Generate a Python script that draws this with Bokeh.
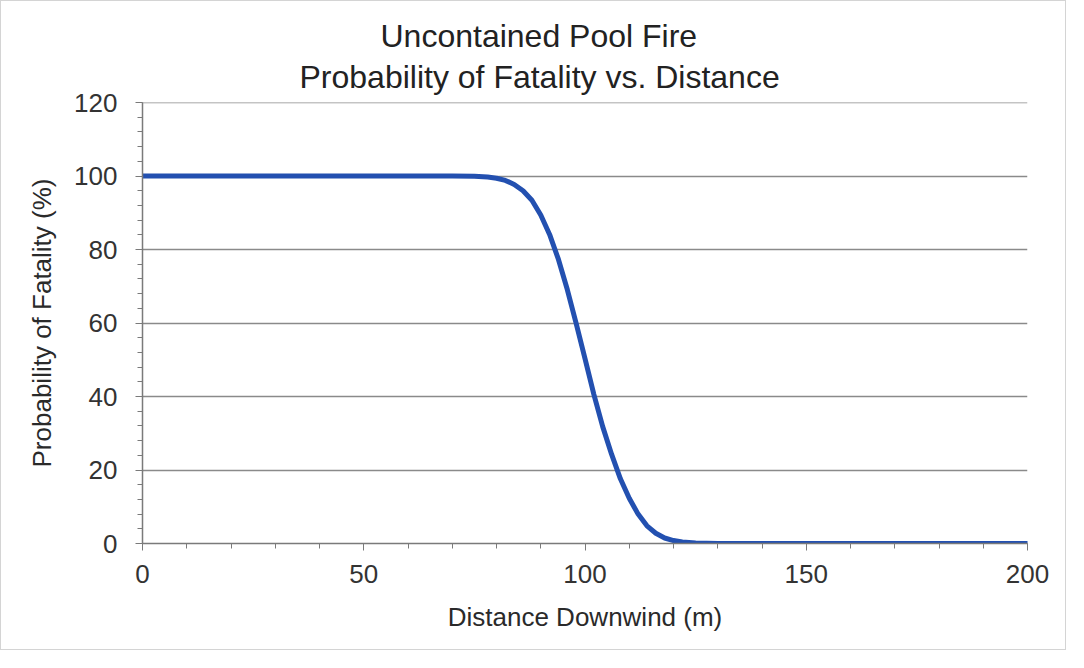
from bokeh.plotting import figure
from bokeh.models import SingleIntervalTicker, Title, Range1d, Span
from bokeh.embed import file_html
from bokeh.resources import INLINE

title_lines = ["Uncontained  Pool Fire", "Probability of Fatality vs. Distance"]
x_label = "Distance Downwind (m)"
y_label = "Probability of Fatality (%)"

distance = [0, 10, 20, 30, 40, 50, 60, 70, 75, 78, 80, 82, 84, 86, 88, 90, 92, 94, 96, 98,
            100, 102, 104, 106, 108, 110, 112, 114, 116, 118, 120, 122, 125, 130, 140,
            150, 160, 170, 180, 190, 200]
probability = [100, 100, 100, 100, 100, 100, 100, 100, 99.9, 99.7, 99.4, 98.8, 97.7, 96.0,
               93.4, 89.4, 84.1, 77.3, 69.1, 59.9,
               50.3, 40.6, 31.8, 24.3, 17.6, 12.3, 8.0, 4.8, 2.8, 1.5, 0.8, 0.4, 0.15, 0.0, 0.0,
               0.0, 0.0, 0.0, 0.0, 0.0, 0.0]

FONT = "Liberation Sans"

p = figure(width=1066, height=650, output_backend="svg", toolbar_location=None,
           x_range=Range1d(0, 200), y_range=Range1d(0, 120),
           min_border_left=141, min_border_right=40, min_border_top=101, min_border_bottom=108)
p.styles = {"border": "1px solid #d4d4d4"}
p.outline_line_color = None
p.background_fill_color = "white"
p.border_fill_color = "white"

p.line(distance, probability, line_color="#2350b0", line_width=5, line_join="round", line_cap="round")

p.xaxis.ticker = SingleIntervalTicker(interval=50, num_minor_ticks=5)
p.yaxis.ticker = SingleIntervalTicker(interval=20, num_minor_ticks=5)
for ax in (p.xaxis, p.yaxis):
    ax.axis_line_color = "#7a7a7a"
    ax.axis_line_width = 1.5
    ax.major_tick_line_color = "#7a7a7a"
    ax.minor_tick_line_color = "#7a7a7a"
    ax.major_tick_in = 0
    ax.major_tick_out = 7
    ax.minor_tick_in = 0
    ax.minor_tick_out = 5
    ax.major_label_text_font = FONT
    ax.major_label_text_font_size = "26px"
    ax.major_label_text_color = "#333333"
    ax.axis_label_text_font = FONT
    ax.axis_label_text_font_size = "26px"
    ax.axis_label_text_font_style = "normal"
    ax.axis_label_text_color = "#2a2a2a"
p.xaxis.axis_label = x_label
p.yaxis.axis_label = y_label
p.xaxis.major_label_standoff = 14
p.yaxis.major_label_standoff = 18
p.xaxis.axis_label_standoff = 16
p.yaxis.axis_label_standoff = 14

p.xgrid.grid_line_color = None
p.ygrid.grid_line_color = "#8a8a8a"
p.ygrid.grid_line_width = 1.5
p.add_layout(Span(location=p.y_range.end, dimension="width", line_color="#8a8a8a", line_width=1.5))

# two-line title, centred on the whole figure (offsets from the frame's left edge)
title_offsets = [238, 157]
title_standoffs = [-10, 16]
for i in (1, 0):
    p.add_layout(Title(text=title_lines[i], align="left", offset=title_offsets[i],
                       text_font=FONT, text_font_size="32px", text_font_style="normal",
                       text_color="#222222", standoff=title_standoffs[i]), "above")

open("out.html", "w").write(file_html(p, INLINE))
